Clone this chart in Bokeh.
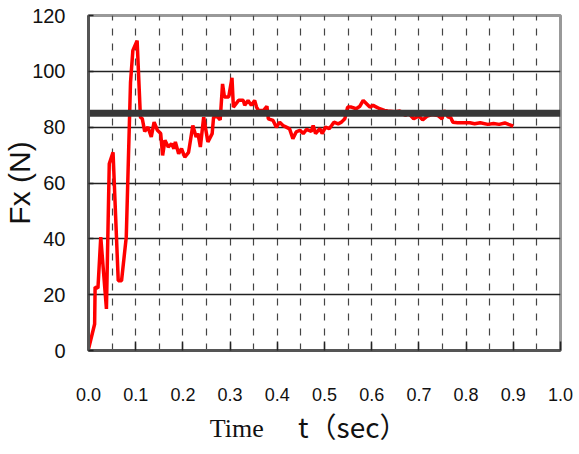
from bokeh.plotting import figure
from bokeh.models import FixedTicker, LinearAxis, Range1d, CustomJSTickFormatter
from bokeh.embed import file_html
from bokeh.resources import INLINE

# red measured force curve
t = [0.000, 0.013, 0.014, 0.020, 0.026, 0.038, 0.044, 0.052, 0.063, 0.070,
     0.080, 0.089, 0.094, 0.103, 0.110, 0.114, 0.119, 0.126, 0.133, 0.139,
     0.146, 0.153, 0.157, 0.162, 0.169, 0.176, 0.181, 0.184, 0.191, 0.197,
     0.204, 0.212, 0.221, 0.228, 0.232, 0.237, 0.244, 0.253, 0.262, 0.265,
     0.272, 0.279, 0.284, 0.288, 0.297, 0.304, 0.307, 0.318, 0.328, 0.331,
     0.338, 0.345, 0.352, 0.356, 0.360, 0.371, 0.378, 0.381, 0.391, 0.398,
     0.405, 0.412, 0.419, 0.426, 0.433, 0.440, 0.448, 0.455, 0.462, 0.472,
     0.476, 0.481, 0.490, 0.495, 0.502, 0.510, 0.515, 0.520, 0.529, 0.536,
     0.543, 0.549, 0.557, 0.567, 0.575, 0.582, 0.589, 0.596, 0.603, 0.610,
     0.617, 0.627, 0.634, 0.650, 0.660, 0.671, 0.678, 0.689, 0.700, 0.708,
     0.718, 0.728, 0.740, 0.749, 0.753, 0.762, 0.767, 0.772, 0.782, 0.797,
     0.808, 0.818, 0.830, 0.846, 0.858, 0.870, 0.882, 0.890, 0.900]
fx = [0.5, 9.5, 22.7, 22.3, 40.6, 14.9, 66.9, 71.0, 25.0, 25.0,
      40.6, 96.0, 107.5, 111.0, 83.6, 83.0, 78.5, 80.0, 76.5, 81.8,
      78.9, 77.7, 69.9, 75.3, 72.9, 74.1, 72.3, 74.7, 70.5, 72.3,
      69.3, 71.0, 80.6, 76.5, 77.7, 72.9, 83.6, 74.7, 77.7, 83.6,
      84.0, 82.6, 95.5, 90.8, 90.8, 97.7, 87.2, 89.6, 89.6, 87.8,
      89.6, 87.8, 89.6, 87.2, 86.0, 86.0, 87.5, 83.0, 82.4, 80.0,
      81.8, 80.6, 80.0, 79.4, 75.9, 78.3, 78.9, 77.7, 79.2, 78.5,
      80.6, 77.7, 79.5, 77.7, 80.0, 79.5, 80.6, 81.8, 81.2, 81.8,
      83.0, 87.2, 87.2, 86.6, 87.5, 89.6, 88.4, 87.2, 87.8, 87.2,
      86.6, 86.0, 85.8, 85.5, 85.8, 84.2, 85.0, 83.0, 84.0, 82.6,
      84.0, 84.5, 84.2, 83.0, 86.0, 83.6, 83.5, 81.8, 81.6, 81.6,
      81.6, 81.2, 81.6, 81.0, 81.3, 81.0, 81.5, 81.0, 80.4]

# reference level (thick dark band)
ref_level = 85.0
ref_t = [0.0, 1.0]

x_ticks = [0.0, 0.1, 0.2, 0.3, 0.4, 0.5, 0.6, 0.7, 0.8, 0.9, 1.0]
x_grid = [0.05, 0.10, 0.15, 0.20, 0.25, 0.30, 0.35, 0.40, 0.45, 0.50,
          0.55, 0.60, 0.65, 0.70, 0.75, 0.80, 0.85, 0.90, 0.95]
y_ticks = [0, 20, 40, 60, 80, 100, 120]
y_grid = [20, 40, 60, 80, 100]

NB = "\u00a0"
x_title_a = "Time"
x_title_b = "t（sec）"

p = figure(width=579, height=454, output_backend="svg", toolbar_location=None,
           x_range=Range1d(0, 1.0), y_range=Range1d(0, 120),
           min_border_left=86, min_border_right=19, min_border_top=15,
           min_border_bottom=104)
p.background_fill_color = "white"
p.border_fill_color = "white"
p.outline_line_color = "#999999"
p.outline_line_width = 3

p.line(t, fx, line_color="red", line_width=3.5)
p.line(ref_t, [ref_level, ref_level], line_color="#383838", line_width=7)

p.xaxis.ticker = FixedTicker(ticks=x_ticks)
p.yaxis.ticker = FixedTicker(ticks=y_ticks)
p.xgrid.ticker = FixedTicker(ticks=x_grid)
p.ygrid.ticker = FixedTicker(ticks=y_grid)
p.xgrid.grid_line_color = "#444444"
p.xgrid.grid_line_dash = "7 8"
p.xgrid.grid_line_width = 1.2
p.ygrid.grid_line_color = "#222222"
p.ygrid.grid_line_width = 1.5

for ax in (p.xaxis, p.yaxis):
    ax.axis_line_color = "#555555"
    ax.axis_line_width = 3
    ax.major_tick_line_color = "#222222"
    ax.major_tick_line_width = 1.5
    ax.minor_tick_line_color = None
    ax.major_tick_out = 0
    ax.major_label_text_font = "Liberation Sans"
    ax.major_label_text_color = "#111111"

p.xaxis.major_tick_in = 9
p.yaxis.major_tick_in = 5
p.xaxis.major_label_text_font_size = "18px"
p.yaxis.major_label_text_font_size = "20px"
p.xaxis.major_label_standoff = 37
p.yaxis.major_label_standoff = 23
p.xaxis.formatter = CustomJSTickFormatter(code="return tick.toFixed(1);")

p.yaxis.axis_label = "Fx (N)"
p.yaxis.axis_label_text_font = "Liberation Sans"
p.yaxis.axis_label_text_font_style = "normal"
p.yaxis.axis_label_text_font_size = "30px"
p.yaxis.axis_label_text_color = "#111111"
p.yaxis.axis_label_standoff = -7

# x title, first part (serif) on the main x axis, padded to sit left of centre
p.xaxis.axis_label = x_title_a + NB * 27
p.xaxis.axis_label_text_font = "Liberation Serif"
p.xaxis.axis_label_text_font_style = "normal"
p.xaxis.axis_label_text_font_size = "26px"
p.xaxis.axis_label_text_color = "#111111"
p.xaxis.axis_label_standoff = 10

# x title, second part (gothic) on a bare helper axis, lifted to the same row
ax2 = LinearAxis(ticker=FixedTicker(ticks=[]), axis_line_color=None,
                 major_tick_line_color=None, minor_tick_line_color=None,
                 major_label_text_font_size="0px")
ax2.axis_label = NB * 9 + x_title_b
ax2.axis_label_text_font = "Noto Sans CJK JP"
ax2.axis_label_text_font_style = "normal"
ax2.axis_label_text_font_size = "28px"
ax2.axis_label_text_color = "#111111"
ax2.axis_label_standoff = -40
p.add_layout(ax2, "below")

open("out.html", "w").write(file_html(p, INLINE))
